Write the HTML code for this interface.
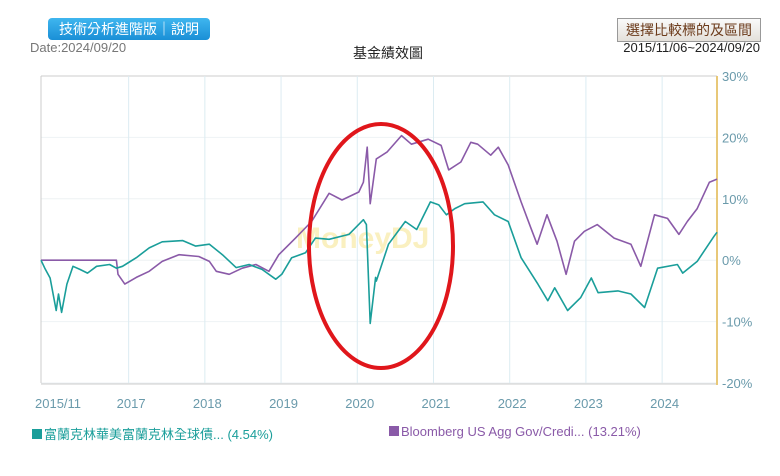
<!DOCTYPE html>
<html><head><meta charset="utf-8"><style>
body{margin:0;background:#fff;font-family:"Liberation Sans","Noto Sans CJK TC",sans-serif;}
#wrap{position:relative;width:780px;height:476px;overflow:hidden;}
.abs{position:absolute;white-space:nowrap;}
</style></head><body>
<div id="wrap">
<div class="abs" style="left:48px;top:18px;width:162px;height:22px;border-radius:4px;background:linear-gradient(#3fb6ef,#1a8fd6);color:#fff;font-size:14px;line-height:22px;text-align:center;">技術分析進階版｜說明</div>
<div class="abs" style="left:617px;top:18px;width:142px;height:22px;border:1px solid #999;background:linear-gradient(#fafafa,#e4e0da);color:#6b3a1a;font-size:14px;line-height:22px;text-align:center;">選擇比較標的及區間</div>
<div class="abs" style="left:30px;top:40px;font-size:13px;color:#777;">Date:2024/09/20</div>
<div class="abs" style="left:353px;top:43px;font-size:14px;color:#222;">基金績效圖</div>
<div class="abs" style="right:20px;top:40px;font-size:13px;color:#222;">2015/11/06~2024/09/20</div>
<svg id="chart" width="780" height="476" style="position:absolute;left:0;top:0"></svg>
<div class="abs" style="left:32px;top:424px;font-size:13px;color:#1a9e9a;"><span style="display:inline-block;width:10px;height:10px;background:#1a9e9a;margin-right:2px"></span>富蘭克林華美富蘭克林全球債... (4.54%)</div>
<div class="abs" style="left:389px;top:424px;font-size:13px;color:#8a5aa8;"><span style="display:inline-block;width:10px;height:10px;background:#8a5aa8;margin-right:2px"></span>Bloomberg US Agg Gov/Credi... (13.21%)</div>
</div>
<script>
const fundDates=[2015.85,2015.90,2015.97,2016.05,2016.08,2016.12,2016.19,2016.27,2016.36,2016.46,2016.58,2016.75,2016.84,2016.92,2017.10,2017.27,2017.44,2017.71,2017.88,2018.06,2018.23,2018.41,2018.58,2018.75,2018.93,2019.01,2019.14,2019.32,2019.45,2019.63,2019.89,2020.08,2020.12,2020.17,2020.24,2020.25,2020.41,2020.63,2020.78,2020.96,2021.07,2021.17,2021.28,2021.41,2021.65,2021.80,2021.98,2022.15,2022.37,2022.50,2022.59,2022.76,2022.93,2023.07,2023.16,2023.42,2023.59,2023.77,2023.94,2024.20,2024.27,2024.46,2024.68,2024.72];
const fundValues=[0,-1.3,-2.9,-8.2,-5.5,-8.5,-3.9,-1,-1.5,-2.1,-1,-0.7,-1.3,-1,0.4,2,3,3.2,2.3,2.6,0.9,-1.2,-0.7,-1.5,-3.1,-2.3,0.4,1.2,3.6,3.4,4.2,6.6,5.8,-10.3,-2.8,-3.4,2.6,6.3,5,9.5,9,7.4,8.4,9.2,9.5,7.4,6.3,0.4,-3.9,-6.6,-4.5,-8.2,-6.1,-2.9,-5.3,-5,-5.5,-7.7,-1.3,-0.7,-2.1,-0.2,3.9,4.54];
const benchDates=[2015.85,2016.84,2016.86,2016.95,2017.10,2017.27,2017.44,2017.66,2017.92,2018.06,2018.15,2018.32,2018.49,2018.67,2018.84,2018.97,2019.19,2019.40,2019.63,2019.80,2020.02,2020.08,2020.13,2020.17,2020.25,2020.39,2020.58,2020.71,2020.93,2021.10,2021.20,2021.36,2021.49,2021.58,2021.75,2021.85,2021.98,2022.15,2022.28,2022.36,2022.49,2022.62,2022.74,2022.85,2022.98,2023.15,2023.37,2023.59,2023.72,2023.90,2024.07,2024.22,2024.33,2024.46,2024.62,2024.72];
const benchValues=[0,0,-2.3,-3.9,-2.8,-1.8,-0.2,0.9,0.6,-0.2,-1.8,-2.3,-1.3,-0.7,-1.8,0.9,3.6,6.3,10.9,9.8,11.1,12.7,18.4,9.2,16.5,17.6,20.3,18.9,19.7,18.7,14.7,16,19.2,18.9,17.1,18.4,15.5,9.5,5.2,2.6,7.4,3.1,-2.3,3.1,4.7,5.8,3.6,2.6,-1,7.4,6.8,4.2,6.3,8.4,12.7,13.21];
const yTicks=[30,20,10,0,-10,-20];
const xTickYears=[2015.85,2017,2018,2019,2020,2021,2022,2023,2024];
const xTickLabels=["2015/11","2017","2018","2019","2020","2021","2022","2023","2024"];
const NS="http://www.w3.org/2000/svg",svg=document.getElementById('chart');
const X0=41,X1=717,Y0=76,Y1=383;
const xs=d=>X0+(d-2015.85)/(2024.72-2015.85)*(X1-X0);
const ys=v=>Y0+(30-v)/50*(Y1-Y0);
function mk(t,a){const e=document.createElementNS(NS,t);for(const k in a)e.setAttribute(k,a[k]);svg.appendChild(e);return e;}
for(const v of yTicks){
 const g=mk('line',{x1:X0,x2:X1,y1:ys(v),y2:ys(v),stroke:v===30?'#ccc':'#eef2f4','stroke-width':1});
 
 
 const t=mk('text',{x:X1+5,y:ys(v)+5,'font-size':13,fill:'#6a9aab','font-family':'Liberation Sans'});
 t.textContent=v+'%';
 
 
}
xTickYears.forEach((d,i)=>{
 const x=xs(d);
 const g=mk('line',{x1:x,x2:x,y1:Y0,y2:Y1,stroke:i===0?'#ccc':'#dcecf2','stroke-width':1});
 
 
 const t=mk('text',{x:i===0?x-6:x-12,y:408,'font-size':13,fill:'#6a9aab','font-family':'Liberation Sans'});
 t.textContent=xTickLabels[i];
 
 
});
const xa=mk('line',{x1:X0,x2:X1,y1:Y1+1,y2:Y1+1,stroke:'#ccc'});


const ya=mk('line',{x1:X1,x2:X1,y1:Y0,y2:Y1+2,stroke:'#e8c878','stroke-width':2});


const wm=mk('text',{x:296,y:248,'font-size':30,'font-weight':'bold',fill:'#faf0c0','font-family':'Liberation Sans'});
wm.textContent='MoneyDJ';


function line(ds,vs,c,n){
 const p=mk('path',{d:ds.map((d,i)=>(i?'L':'M')+xs(d).toFixed(1)+','+ys(vs[i]).toFixed(1)).join(''),fill:'none',stroke:c,'stroke-width':1.6,'stroke-linejoin':'round'});
 
 
}
line(benchDates,benchValues,'#8a5aa8','benchmark-line');
line(fundDates,fundValues,'#1a9e9a','fund-line');
const el=mk('ellipse',{cx:381,cy:246,rx:72,ry:122,fill:'none',stroke:'#e0161b','stroke-width':4});


</script>
</body></html>
